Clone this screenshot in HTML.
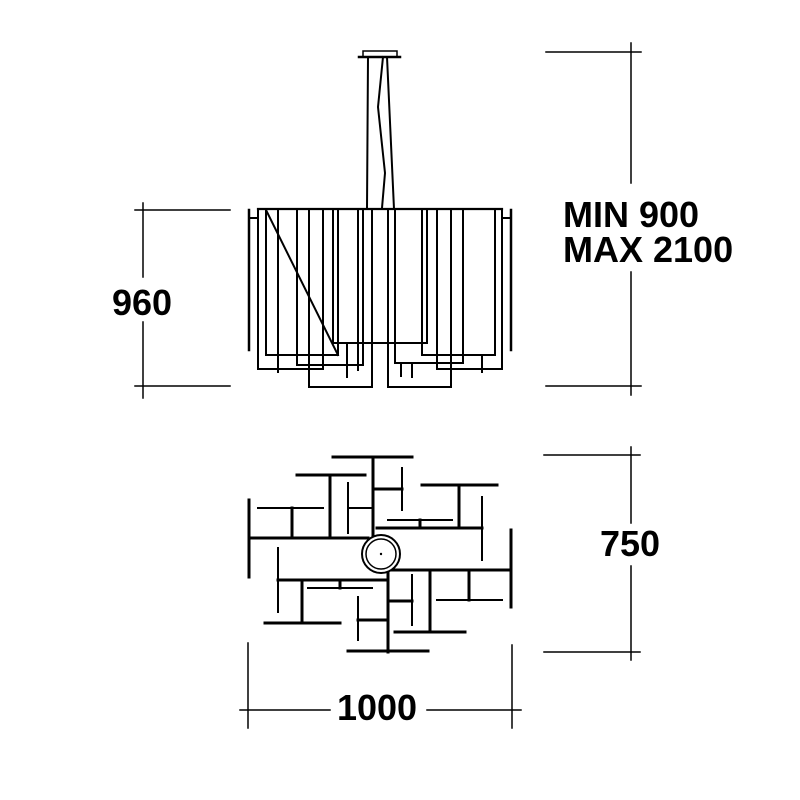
<!DOCTYPE html>
<html><head><style>html,body{margin:0;padding:0;background:#fff}svg{display:block}</style></head>
<body>
<svg width="800" height="800" viewBox="0 0 800 800" xmlns="http://www.w3.org/2000/svg">
<g stroke="#000" fill="none" stroke-linecap="square">
<g stroke-width="1.5">
<line x1="143" y1="203" x2="143" y2="277"/><line x1="143" y1="322" x2="143" y2="398"/>
<line x1="135" y1="210" x2="230" y2="210"/><line x1="135" y1="386" x2="230" y2="386"/>
<line x1="631" y1="43" x2="631" y2="183"/><line x1="631" y1="272" x2="631" y2="395"/>
<line x1="546" y1="52" x2="641" y2="52"/><line x1="546" y1="386" x2="641" y2="386"/>
<line x1="631" y1="447" x2="631" y2="523"/><line x1="631" y1="566" x2="631" y2="660"/>
<line x1="544" y1="455" x2="640" y2="455"/><line x1="544" y1="652" x2="640" y2="652"/>
<line x1="240" y1="710" x2="330" y2="710"/><line x1="427" y1="710" x2="521" y2="710"/>
<line x1="248" y1="643" x2="248" y2="728"/><line x1="512" y1="645" x2="512" y2="728"/>
</g>
<g stroke-width="2">
<rect x="363" y="51" width="34" height="6" fill="#fff" stroke-width="1.5"/>
<line x1="359" y1="57" x2="400" y2="57" stroke-width="2.5"/>
<line x1="368" y1="57" x2="367" y2="209"/>
<line x1="387" y1="57" x2="394" y2="209"/>
<polyline points="383,57 378,107 385,173 382,208" stroke-width="2"/>
<line x1="258" y1="209" x2="502" y2="209" stroke-width="2.2"/>
<line x1="249" y1="210" x2="249" y2="350" stroke-width="2.5"/>
<line x1="249" y1="218" x2="258" y2="218"/>
<line x1="511" y1="210" x2="511" y2="350" stroke-width="2.5"/>
<line x1="502" y1="218" x2="511" y2="218"/>
<polyline points="258,209 258,369 323,369 323,209"/>
<polyline points="266,209 266,355 338,355 338,209"/>
<line x1="266" y1="210" x2="338" y2="355"/>
<line x1="278" y1="209" x2="278" y2="372"/>
<polyline points="297,209 297,365 363,365 363,209"/>
<polyline points="309,209 309,387 372,387 372,209"/>
<polyline points="333,209 333,343 427,343 427,209"/>
<line x1="347" y1="343" x2="347" y2="377"/>
<line x1="358" y1="209" x2="358" y2="370"/>
<polyline points="388,209 388,387 451,387 451,209"/>
<polyline points="395,209 395,363 463,363 463,209"/>
<polyline points="422,209 422,355 495,355 495,209"/>
<polyline points="437,209 437,369 502,369 502,209"/>
<line x1="401" y1="363" x2="401" y2="376"/>
<line x1="412" y1="363" x2="412" y2="377"/>
<line x1="482" y1="355" x2="482" y2="372"/>
</g>
<g stroke-width="3">
<line x1="249" y1="500" x2="249" y2="577"/>
<line x1="249" y1="538" x2="368" y2="538"/>
<line x1="292" y1="508" x2="292" y2="538"/>
<line x1="330" y1="475" x2="330" y2="538"/>
<line x1="297" y1="475" x2="365" y2="475"/>
<line x1="373" y1="457" x2="373" y2="537"/>
<line x1="333" y1="457" x2="412" y2="457"/>
<line x1="373" y1="489" x2="402" y2="489"/>
<line x1="377" y1="528" x2="482" y2="528"/>
<line x1="459" y1="487" x2="459" y2="528"/>
<line x1="422" y1="485" x2="497" y2="485"/>
<line x1="511" y1="530" x2="511" y2="607"/>
<line x1="390" y1="570" x2="511" y2="570"/>
<line x1="469" y1="572" x2="469" y2="600"/>
<line x1="430" y1="572" x2="430" y2="632"/>
<line x1="395" y1="632" x2="465" y2="632"/>
<line x1="388" y1="572" x2="388" y2="652"/>
<line x1="348" y1="651" x2="428" y2="651"/>
<line x1="390" y1="601" x2="412" y2="601"/>
<line x1="358" y1="620" x2="388" y2="620"/>
<line x1="278" y1="580" x2="385" y2="580"/>
<line x1="302" y1="582" x2="302" y2="622"/>
<line x1="265" y1="623" x2="340" y2="623"/>
<line x1="420" y1="520" x2="420" y2="528"/>
<line x1="340" y1="580" x2="340" y2="588"/>
</g>
<g stroke-width="2">
<line x1="258" y1="508" x2="323" y2="508"/>
<line x1="348" y1="483" x2="348" y2="533"/>
<line x1="348" y1="508" x2="373" y2="508"/>
<line x1="402" y1="468" x2="402" y2="510"/>
<line x1="388" y1="520" x2="452" y2="520"/>
<line x1="482" y1="497" x2="482" y2="560"/>
<line x1="437" y1="600" x2="502" y2="600"/>
<line x1="412" y1="575" x2="412" y2="625"/>
<line x1="358" y1="597" x2="358" y2="640"/>
<line x1="278" y1="548" x2="278" y2="612"/>
<line x1="308" y1="588" x2="372" y2="588"/>
</g>
<circle cx="381" cy="554" r="19" fill="#fff" stroke-width="2"/>
<circle cx="381" cy="554" r="15" stroke-width="1.5"/>
<circle cx="381" cy="554" r="1.2" fill="#000" stroke="none"/>
</g>
<g font-family="Liberation Sans, Arial, sans-serif" font-weight="bold" font-size="36" fill="#000">
<text x="142" y="315" text-anchor="middle">960</text>
<text x="563" y="227">MIN 900</text>
<text x="563" y="262">MAX 2100</text>
<text x="630" y="556" text-anchor="middle">750</text>
<text x="377" y="720" text-anchor="middle">1000</text>
</g>
</svg>
</body></html>
